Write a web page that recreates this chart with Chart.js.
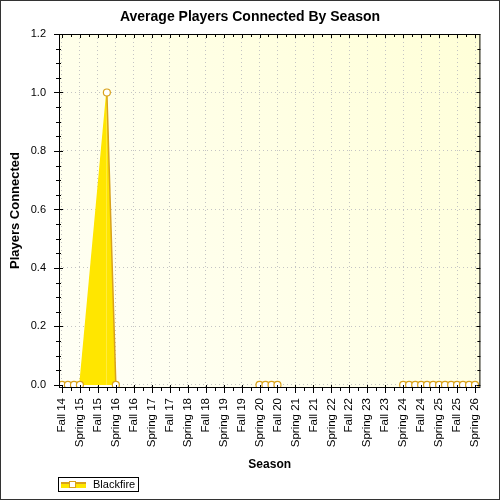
<!DOCTYPE html>
<html>
<head>
<meta charset="utf-8">
<script src="https://cdn.jsdelivr.net/npm/chart.js@4.4.1/dist/chart.umd.min.js"></script>
<style>
  html, body { margin: 0; padding: 0; background: #fff; }
  #wrap { width: 500px; height: 500px; }
</style>
</head>
<body>
<div id="wrap"><canvas id="chart" width="500" height="500"></canvas></div>
<script>
// categories on the x axis (one per season)
const seasons = ['Fall 14', 'Spring 15', 'Fall 15', 'Spring 16', 'Fall 16', 'Spring 17', 'Fall 17', 'Spring 18',
  'Fall 18', 'Spring 19', 'Fall 19', 'Spring 20', 'Fall 20', 'Spring 21', 'Fall 21', 'Spring 22',
  'Fall 22', 'Spring 23', 'Fall 23', 'Spring 24', 'Fall 24', 'Spring 25', 'Fall 25', 'Spring 26'];

// sample positions (in season units, Fall 14 = 0) and players connected; null = no data
const sampleX = [0, 0.33, 0.67, 1, 2.5, 3, 7,
  11, 11.33, 11.67, 12, 15.5,
  19, 19.33, 19.67, 20, 20.33, 20.67, 21, 21.33, 21.67, 22, 22.33, 22.67, 23];
const players = [0, 0, 0, 0, 1.0, 0, null,
  0, 0, 0, 0, null,
  0, 0, 0, 0, 0, 0, 0, 0, 0, 0, 0, 0, 0];

const yTickValues = [0, 0.2, 0.4, 0.6, 0.8, 1.0, 1.2];

const chartTitle = 'Average Players Connected By Season';

const FILL = '#FFE600';
const LINE = '#D9A21B';
const FONT = '"Liberation Sans", Arial, sans-serif';

Chart.defaults.font.family = FONT;
Chart.defaults.color = '#000';

const plotBackground = {
  id: 'plotBackground',
  beforeDraw(chart) {
    const { ctx, chartArea: a } = chart;
    ctx.save();
    ctx.fillStyle = '#fff';
    ctx.fillRect(0, 0, chart.width, chart.height);
    const g = ctx.createLinearGradient(a.left, a.bottom, a.right, a.top);
    g.addColorStop(0, '#FFFFF6');
    g.addColorStop(1, '#FFFFD8');
    ctx.fillStyle = g;
    ctx.fillRect(a.left, a.top, a.right - a.left, a.bottom - a.top);
    ctx.restore();
  }
};

// title centred on the canvas, axis frame with major/minor ticks on all four sides, border, legend box
const frame = {
  id: 'frame',
  afterDraw(chart) {
    const { ctx, chartArea: a, scales: { x, y } } = chart;
    ctx.save();

    ctx.fillStyle = '#000';
    ctx.font = 'bold 14px ' + FONT;
    ctx.textAlign = 'center';
    ctx.textBaseline = 'middle';
    ctx.fillText(chartTitle, chart.width / 2, 17);

    ctx.strokeStyle = '#000';
    ctx.lineWidth = 1;
    ctx.strokeRect(a.left + 0.5, a.top + 0.5, a.right - a.left - 1, a.bottom - a.top);

    ctx.beginPath();
    for (let v = 0; v <= seasons.length - 1; v += 0.5) {
      const px = Math.round(x.getPixelForValue(v)) + 0.5;
      const major = Number.isInteger(v);
      ctx.moveTo(px, a.bottom - (major ? 2 : 0));
      ctx.lineTo(px, a.bottom + (major ? 6 : 4));
      ctx.moveTo(px, a.top);
      ctx.lineTo(px, a.top + (major ? 4 : 3));
    }
    for (let i = 0; i <= 24; i++) {
      const v = i * 0.05;
      const py = Math.round(y.getPixelForValue(v)) + 0.5;
      const major = i % 4 === 0;
      ctx.moveTo(a.left - (major ? 5 : 3), py);
      ctx.lineTo(a.left + (major ? 4 : 2), py);
      ctx.moveTo(a.right, py);
      ctx.lineTo(a.right - (major ? 4 : 3), py);
    }
    ctx.stroke();

    // outer border
    ctx.strokeStyle = '#333';
    ctx.strokeRect(0.5, 0.5, chart.width - 1, chart.height - 1);

    // legend
    const ds = chart.data.datasets[0];
    ctx.strokeStyle = '#000';
    ctx.strokeRect(58.5, 477.5, 80, 14);
    ctx.fillStyle = FILL;
    ctx.fillRect(61, 482, 25, 6);
    ctx.strokeStyle = LINE;
    ctx.lineWidth = 2;
    ctx.beginPath();
    ctx.moveTo(61, 483);
    ctx.lineTo(86, 483);
    ctx.stroke();
    ctx.lineWidth = 1;
    ctx.fillStyle = '#fff';
    ctx.fillRect(69.5, 481.5, 6, 6);
    ctx.strokeRect(69.5, 481.5, 6, 6);
    ctx.fillStyle = '#000';
    ctx.font = '11px ' + FONT;
    ctx.textAlign = 'left';
    ctx.textBaseline = 'middle';
    ctx.fillText(ds.label, 93, 485);
    ctx.restore();
  }
};

new Chart(document.getElementById('chart'), {
  type: 'line',
  data: {
    datasets: [{
      label: 'Blackfire',
      data: sampleX.map((v, i) => ({ x: v, y: players[i] })),
      borderColor: LINE,
      backgroundColor: FILL,
      fill: 'origin',
      borderWidth: 1.5,
      tension: 0,
      spanGaps: false,
      pointRadius: 3.5,
      pointBorderWidth: 1.2,
      pointBackgroundColor: '#fff',
      pointBorderColor: LINE,
      segment: {
        borderColor: c => c.p1.parsed.y > c.p0.parsed.y ? FILL : LINE
      }
    }]
  },
  options: {
    responsive: false,
    animation: false,
    devicePixelRatio: 1,
    layout: { padding: { left: 0, right: 15, top: 34, bottom: 26 } },
    plugins: {
      legend: { display: false },
      tooltip: { enabled: false },
      title: { display: false }
    },
    scales: {
      x: {
        type: 'linear',
        min: -0.165,
        max: 23.3,
        afterBuildTicks: s => { s.ticks = seasons.map((_, i) => ({ value: i })); },
        afterFit: s => { s.height = 87; },
        ticks: {
          autoSkip: false,
          minRotation: 90,
          maxRotation: 90,
          padding: 11,
          font: { size: 11.5 },
          callback: v => seasons[v]
        },
        grid: { color: '#c4c4c4', drawTicks: false, lineWidth: 1 },
        border: { display: false, dash: [1, 3] },
        title: {
          display: true,
          text: 'Season',
          font: { size: 12, weight: 'bold' },
          padding: { top: 0, bottom: 2 }
        }
      },
      y: {
        type: 'linear',
        min: -0.007,
        max: 1.2,
        afterBuildTicks: s => { s.ticks = yTickValues.map(v => ({ value: v })); },
        afterFit: s => { s.width = 59; },
        ticks: {
          padding: 13,
          font: { size: 11 },
          callback: v => v.toFixed(1)
        },
        grid: { color: '#c4c4c4', drawTicks: false, lineWidth: 1 },
        border: { display: false, dash: [1, 3] },
        title: {
          display: true,
          text: 'Players Connected',
          font: { size: 13, weight: 'bold' },
          padding: { top: 7.5, bottom: 0 }
        }
      }
    }
  },
  plugins: [plotBackground, frame]
});
</script>
</body>
</html>
